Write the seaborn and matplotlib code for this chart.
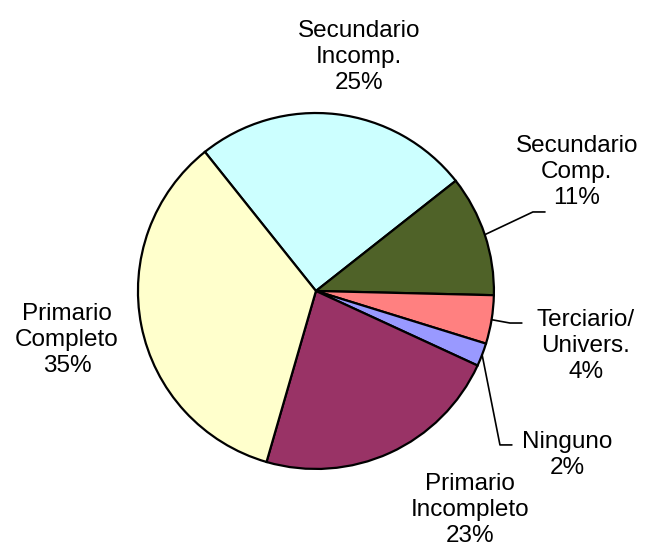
import numpy as np
import seaborn as sns
import matplotlib
matplotlib.use("Agg")
import matplotlib.pyplot as plt

# Datos del grafico (orden horario desde arriba a la izquierda)
categorias = ["Secundario\nIncomp.", "Secundario\nComp.", "Terciario/\nUnivers.",
              "Ninguno", "Primario\nIncompleto", "Primario\nCompleto"]
valores = [25.1, 11.0, 4.4, 2.1, 22.6, 34.8]
colores = ["#CCFFFF", "#4F6228", "#FF8080", "#9999FF", "#993366", "#FFFFCC"]

sns.set_style("white")
plt.rcParams['font.family'] = ['Liberation Sans', 'DejaVu Sans']

fig = plt.figure(figsize=(6.47, 5.51), dpi=100)
ax = fig.add_axes([0, 0, 1, 1])

wedges, _ = ax.pie(valores, colors=colores, startangle=128.6, counterclock=False,
                   wedgeprops=dict(edgecolor="black", linewidth=1.6))

ax.set_xlim(-1.775, 1.860)
ax.set_ylim(-1.461, 1.635)
ax.set_aspect("equal")
ax.axis("off")

total = sum(valores)
# posicion del texto de cada etiqueta
pos_texto = [(0.242, 1.315), (1.466, 0.669), (1.517, -0.309),
             (1.410, -0.921), (0.865, -1.230), (-1.399, -0.275)]
# lineas guia: (codo, fin) para las que tienen
guias = {1: ((1.219, 0.444), (1.287, 0.444)),
         2: ((1.090, -0.180), (1.157, -0.180)),
         3: ((1.034, -0.865), (1.101, -0.865))}

for i, (w, cat, v) in enumerate(zip(wedges, categorias, valores)):
    pct = round(v / total * 100)
    ax.text(pos_texto[i][0], pos_texto[i][1], f"{cat}\n{pct}%", ha="center", va="center",
            fontsize=17.5, linespacing=1.22, color="black")
    if i in guias:
        ang = np.deg2rad((w.theta1 + w.theta2) / 2)
        x0, y0 = np.cos(ang), np.sin(ang)
        (xc, yc), (xf, yf) = guias[i]
        ax.plot([x0, xc, xf], [y0, yc, yf], color="black", linewidth=1.2)

fig.savefig("out.png", dpi=100)
